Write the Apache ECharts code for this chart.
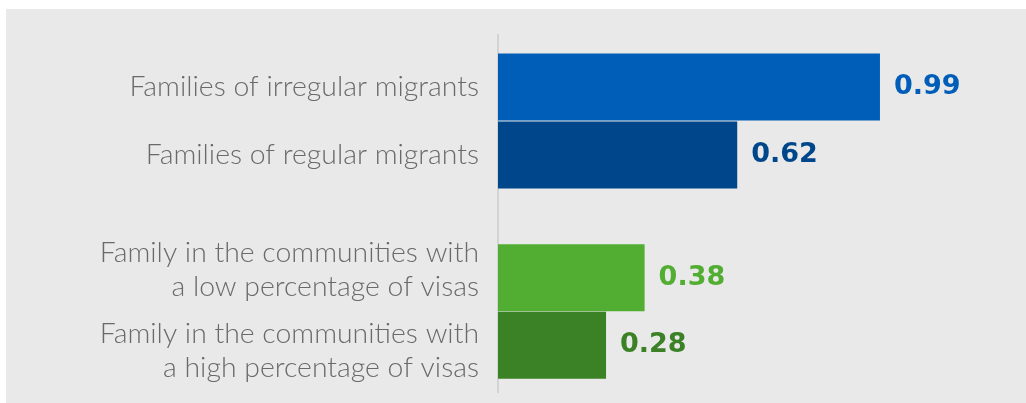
<!DOCTYPE html>
<html>
<head>
<meta charset="utf-8">
<title>Families comparison</title>
<script src="https://cdn.jsdelivr.net/npm/echarts@6/dist/echarts.min.js"></script>
<style>
  html, body { margin: 0; padding: 0; background: #ffffff; }
  #chart { width: 1026px; height: 403px; }
</style>
</head>
<body>
<div id="chart"></div>
<script>
// Migrant families
const migrantCategories = ['Families of irregular migrants', 'Families of regular migrants'];
const migrantValues = [0.99, 0.62];
const migrantColors = ['#005eb8', '#00468a'];

// Families by community visa share
const communityCategories = [
  'Family in the communities with\na low percentage of visas',
  'Family in the communities with\na high percentage of visas'
];
const communityValues = [0.38, 0.28];
const communityColors = ['#52ae32', '#3b8126'];

const chart = echarts.init(document.getElementById('chart'));

const X_MAX = 1.2;
const categoryFont = 'Lato, "Open Sans", sans-serif';
const valueFont = '"DejaVu Sans", Verdana, sans-serif';

function seriesFor(values, colors, gridIndex) {
  return {
    type: 'bar',
    xAxisIndex: gridIndex,
    yAxisIndex: gridIndex,
    barWidth: 67,
    silent: true,
    data: values.map((v, i) => ({
      value: v,
      itemStyle: { color: colors[i] },
      label: { color: colors[i] }
    })),
    label: {
      show: true,
      position: 'right',
      distance: 14,
      fontFamily: valueFont,
      fontSize: 27,
      fontWeight: 'bold',
      formatter: p => p.value.toFixed(2)
    }
  };
}

const labelStyle = {
  fontFamily: categoryFont,
  fontSize: 28.4,
  fontWeight: 300,
  color: '#6a6a6a',
  lineHeight: 34
};

// Two-line labels get a thin spacer line so the pair sits a bit apart
function yAxisFor(categories, gridIndex, spread) {
  return {
    type: 'category',
    gridIndex: gridIndex,
    inverse: true,
    data: categories,
    axisLine: { show: false },
    axisTick: { show: false },
    axisLabel: Object.assign({
      interval: 0,
      hideOverlap: false,
      margin: 19,
      align: 'right',
      formatter: (value, index) => {
        const lines = value.split('\n').map(l => '{t|' + l + '}');
        if (spread) {
          if (index === 0) lines.push('{gapA| }');
          else lines.unshift('{gapB| }');
        }
        return lines.join('\n');
      },
      rich: {
        t: Object.assign({}, labelStyle),
        gapA: { lineHeight: 15, fontSize: 8 },
        gapB: { lineHeight: 12, fontSize: 8 }
      }
    }, labelStyle)
  };
}

function xAxisFor(gridIndex) {
  return {
    type: 'value',
    gridIndex: gridIndex,
    min: 0,
    max: X_MAX,
    show: false
  };
}

chart.setOption({
  animation: false,
  backgroundColor: '#ffffff',
  graphic: [
    {
      type: 'rect',
      z: -10,
      shape: { x: 6, y: 9, width: 1020, height: 394 },
      style: { fill: '#e9e9e9' }
    },
    {
      type: 'line',
      z: -5,
      shape: { x1: 498, y1: 34, x2: 498, y2: 393 },
      style: { stroke: '#d3d3d3', lineWidth: 2 }
    }
  ],
  grid: [
    { left: 498, top: 53, height: 136, width: 463 },
    { left: 498, top: 244, height: 135, width: 463 }
  ],
  xAxis: [xAxisFor(0), xAxisFor(1)],
  yAxis: [
    yAxisFor(migrantCategories, 0, false),
    yAxisFor(communityCategories, 1, true)
  ],
  series: [
    seriesFor(migrantValues, migrantColors, 0),
    seriesFor(communityValues, communityColors, 1)
  ]
});
</script>
</body>
</html>
